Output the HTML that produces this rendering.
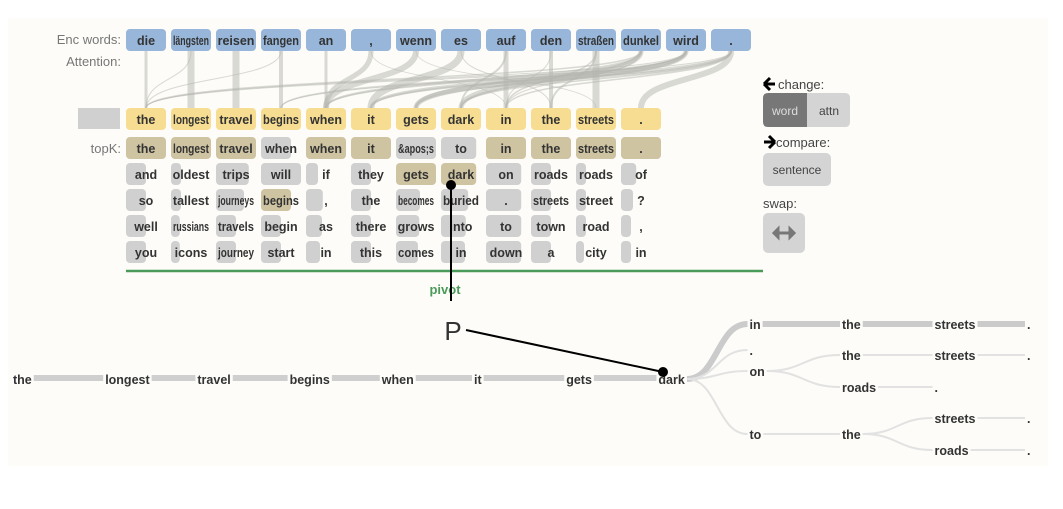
<!DOCTYPE html>
<html><head><meta charset="utf-8">
<style>
body{margin:0;background:#fff;}
svg{display:block;font-family:"Liberation Sans",sans-serif;}
.w{font-size:12.5px;font-weight:bold;fill:#333;}
.lab{font-size:13px;fill:#777;}
</style></head><body>
<svg id="c" width="1063" height="509" xmlns="http://www.w3.org/2000/svg">
<rect x="8" y="18" width="1040" height="448" fill="#fdfcf8"/>
<text class="lab" x="121" y="44" text-anchor="end">Enc words:</text>
<text class="lab" x="121" y="66" text-anchor="end">Attention:</text>
<text class="lab" x="121" y="153" text-anchor="end">topK:</text>
<rect x="78" y="108" width="42" height="21" fill="#d0d0d0"/>
<g id="att"></g>
<g id="enc"></g>
<g id="dec"></g>
<g id="topk"></g>
<line x1="126" y1="271" x2="763" y2="271" stroke="#4a9a5a" stroke-width="2.5"/>
<text x="445" y="294" font-size="13" font-weight="bold" fill="#4a9a5a" text-anchor="middle">pivot</text>
<line x1="451" y1="185" x2="451" y2="301" stroke="#000" stroke-width="2"/>
<circle cx="451" cy="185" r="5" fill="#000"/>
<text x="453" y="340" font-size="26" fill="#333" text-anchor="middle">P</text>
<line x1="466" y1="330" x2="663" y2="372" stroke="#000" stroke-width="2"/>
<g id="tree"></g>
<circle cx="663" cy="372" r="5" fill="#000"/>
<g>
<path d="M764 84 L770 78 M764 84 L770 90 M764 84 H775" stroke="#000" stroke-width="3" fill="none"/>
<text x="778" y="89" font-size="13" fill="#444">change:</text>
<g><path d="M768 93 H807 V127 H768 Q763 127 763 122 V98 Q763 93 768 93Z" fill="#777"/><text x="785" y="115" font-size="12" fill="#ddd" text-anchor="middle">word</text></g>
<g><path d="M807 93 H845 Q850 93 850 98 V122 Q850 127 845 127 H807Z" fill="#d4d4d4"/><text x="829" y="115" font-size="12" fill="#444" text-anchor="middle">attn</text></g>
<path d="M775 142 L769 136 M775 142 L769 148 M775 142 H764" stroke="#000" stroke-width="3" fill="none"/>
<text x="776" y="147" font-size="13" fill="#444">compare:</text>
<g><rect x="763" y="153" width="68" height="33" rx="5" fill="#d4d4d4"/><text x="797" y="174" font-size="12" fill="#444" text-anchor="middle">sentence</text></g>
<text x="763" y="208" font-size="13" fill="#444">swap:</text>
<g><rect x="763" y="213" width="42" height="40" rx="5" fill="#d4d4d4"/>
<path d="M774 233 H794 M774 233 L778 229 L778 237Z M794 233 L790 229 L790 237Z" stroke="#777" stroke-width="3" fill="#777"/></g>
</g>
</svg>
<script>
const encWords=["die","längsten","reisen","fangen","an",",","wenn","es","auf","den","straßen","dunkel","wird","."];
const decWords=["the","longest","travel","begins","when","it","gets","dark","in","the","streets","."];
const topkWords=[
["the","longest","travel","when","when","it","&apos;s","to","in","the","streets","."],
["and","oldest","trips","will","if","they","gets","dark","on","roads","roads","of"],
["so","tallest","journeys","begins",",","the","becomes","buried",".","streets","street","?"],
["well","russians","travels","begin","as","there","grows","into","to","town","road",","],
["you","icons","journey","start","in","this","comes","in","down","a","city","in"]];
const topkProb=[
[1,1,1,0.75,1,1,1,0.88,1,1,1,1],
[0.5,0.25,0.82,1,0.3,0.5,1,0.88,0.88,0.5,0.25,0.38],
[0.5,0.25,0.7,0.75,0.42,0.5,0.6,0.68,0.88,0.5,0.25,0.3],
[0.5,0.22,0.5,0.5,0.4,0.5,0.58,0.62,0.88,0.5,0.25,0.25],
[0.5,0.22,0.5,0.5,0.35,0.5,0.55,0.6,0.88,0.5,0.2,0.25]];
const topkMatch=[
[1,1,1,0,1,1,0,0,1,1,1,1],
[0,0,0,0,0,0,1,1,0,0,0,0],
[0,0,0,1,0,0,0,0,0,0,0,0],
[0,0,0,0,0,0,0,0,0,0,0,0],
[0,0,0,0,0,0,0,0,0,0,0,0]];
// [encIndex, decIndex, weight]
const attention=[[0,0,3],[1,1,7],[2,2,7],[3,3,4],[4,4,3],[5,4,5],[6,4,6],[7,5,7],[8,8,5],[9,9,4],[10,10,7],[11,7,5],[12,6,5],[13,11,6],
[11,0,1.5],[12,0,1],[13,0,1],[12,3,1.5],[13,3,1],[11,4,2],[12,5,3],[13,5,2],[11,6,3],[13,6,2],[12,7,2],[8,7,2],[13,8,1.5],[9,8,1],[10,9,2],[7,9,1],[1,0,1],[3,0,1],[5,8,0.8],[6,10,0.8],[10,8,1.5],[11,8,1],[13,7,1.5],[12,4,1.5]];
const treeMain=["the","longest","travel","begins","when","it","gets","dark"];
const branchWords=["in","the","streets",".",".","on","the","streets",".","roads",".","to","the","streets",".","roads","."];
const branchCol=[1,2,3,4,1,1,2,3,4,2,3,1,2,3,4,3,4];
const branchRow=[324,324,324,324,350,371,355,355,355,387,387,434,434,418,418,450,450];
const branchParent=[-1,0,1,2,-1,-1,5,6,7,5,9,-1,11,12,13,12,15];
const branchWeight=[6,6,6,6,2,2,2,2,2,2,2,2,2,2,2,2,2];

const NS="http://www.w3.org/2000/svg";
function mk(tag,attrs,parent){const e=document.createElementNS(NS,tag);for(const k in attrs)e.setAttribute(k,attrs[k]);parent.appendChild(e);return e;}
const colX=i=>126+45*i, CW=40;
const encG=document.getElementById('enc'),decG=document.getElementById('dec'),tkG=document.getElementById('topk'),attG=document.getElementById('att'),trG=document.getElementById('tree');
function label(g,x,y,t){const e=mk('text',{x:x,y:y,'text-anchor':'middle',class:'w'},g);e.textContent=t;
const L=e.getComputedTextLength();if(L>37){e.setAttribute('textLength',36);e.setAttribute('lengthAdjust','spacingAndGlyphs');}return e;}
attention.forEach(a=>{const x1=colX(a[0])+20,x2=colX(a[1])+20;
const p=mk('path',{d:`M${x1} 51 C${x1} 82 ${x2} 76 ${x2} 108`,fill:'none',stroke:'#b5b5b0','stroke-opacity':0.5,'stroke-width':a[2]},attG);

});
encWords.forEach((w,i)=>{const g=mk('g',{},encG);


mk('rect',{x:colX(i),y:29,width:CW,height:22,rx:4,fill:'#97b6d9'},g);label(g,colX(i)+20,45,w);});
decWords.forEach((w,i)=>{const g=mk('g',{},decG);


mk('rect',{x:colX(i),y:108,width:CW,height:22,rx:4,fill:'#f6dd92'},g);label(g,colX(i)+20,124,w);});
topkWords.forEach((row,r)=>row.forEach((w,i)=>{const g=mk('g',{},tkG);


const y=137+26*r;
mk('rect',{x:colX(i),y:y,width:CW*topkProb[r][i],height:22,rx:4,fill:topkMatch[r][i]?'#cfc4a2':'#d0d0d0'},g);
label(g,colX(i)+20,y+16,w);}));
const mainX=i=>13+92.2*i, MY=379;
function tw(t){const e=mk('text',{class:'w',x:0,y:-50},trG);e.textContent=t;const l=e.getComputedTextLength();e.remove();return l;}
treeMain.forEach((w,i)=>{if(i<treeMain.length-1){const s=mainX(i)+tw(w)+2;const r=mk('rect',{x:s,y:MY-4,width:mainX(i+1)-s-2,height:6,fill:'#cfcfcf'},trG);

}
const t=mk('text',{x:mainX(i),y:MY+5,class:'w'},trG);t.textContent=w;

});
const bx=c=>657+92.5*c;
branchWords.forEach((w,i)=>{const p=branchParent[i];let x1,y1;
if(p<0){x1=bx(0)+30;y1=MY;}else{x1=bx(branchCol[p])+tw(branchWords[p])+2;y1=branchRow[p];}
const x2=bx(branchCol[i])-2,y2=branchRow[i];
const col=branchWeight[i]>3?'#cbcbcb':'#e2e2e2';
let e;
if(Math.abs(y1-y2)<1)e=mk('line',{x1:x1,y1:y1,x2:x2,y2:y2,stroke:col,'stroke-width':branchWeight[i]},trG);
else{const m=(x1+x2)/2;e=mk('path',{d:`M${x1} ${y1} C${m} ${y1} ${m} ${y2} ${x2} ${y2}`,fill:'none',stroke:col,'stroke-width':branchWeight[i]},trG);}


const t=mk('text',{x:bx(branchCol[i]),y:y2+5,class:'w'},trG);t.textContent=w;

});
</script>
</body></html>
